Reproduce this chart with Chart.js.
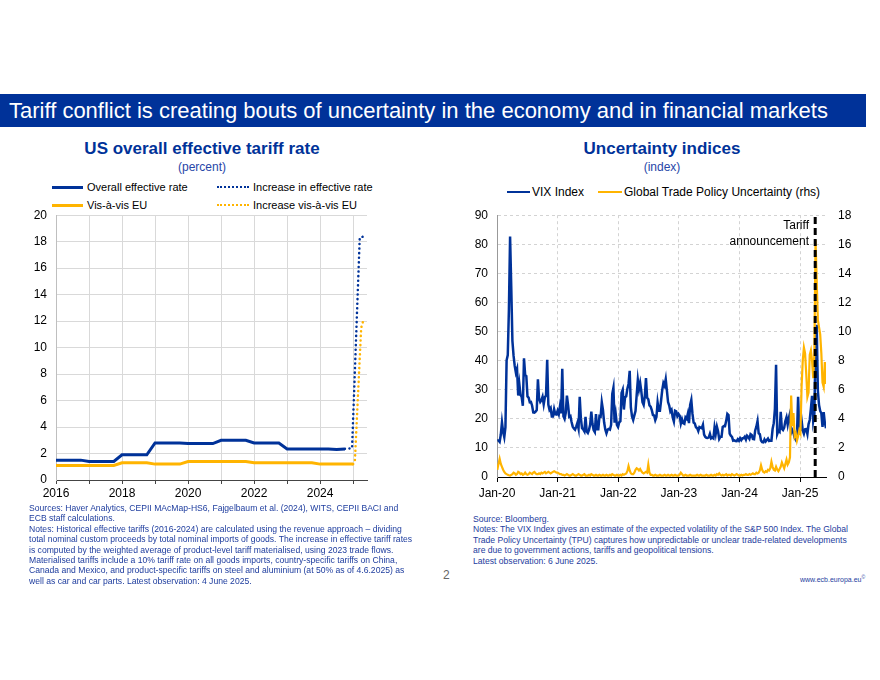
<!DOCTYPE html>
<html>
<head>
<meta charset="utf-8">
<script src="https://cdn.jsdelivr.net/npm/chart.js@4.4.1/dist/chart.umd.min.js"></script>
<style>
  body { margin: 0; background: #fff; font-family: "Liberation Sans", Arial, sans-serif; }
  #page { position: relative; width: 880px; height: 680px; overflow: hidden; }
  .abs { position: absolute; white-space: nowrap; }
  #banner { left: 0; top: 94px; width: 866px; height: 33px; background: #003299; color: #fff;
            font-size: 22px; line-height: 33px; padding-left: 9px; box-sizing: border-box; }
  .title { font-weight: bold; font-size: 17px; line-height: 20px; color: #003299; text-align: center; }
  .sub { font-size: 12px; line-height: 14px; color: #2846a8; text-align: center; }
  .leg { font-size: 11px; line-height: 14px; color: #000; }
  .leg2 { font-size: 12px; line-height: 14px; color: #000; }
  .sw { position: absolute; height: 0; }
  .notes { font-size: 8.6px; line-height: 10.4px; color: #1d3c9e; }
  canvas { position: absolute; }
</style>
</head>
<body>
<div id="page">
  <div id="banner" class="abs">Tariff conflict is creating bouts of uncertainty in the economy and in financial markets</div>

  <!-- left panel -->
  <div class="abs title" style="left:20px; top:139px; width:364px;">US overall effective tariff rate</div>
  <div class="abs sub" style="left:20px; top:160px; width:364px;">(percent)</div>
  <div class="sw" style="left:52px; top:186px; width:31px; border-top:3px solid #003299;"></div>
  <div class="abs leg" style="left:87px; top:180px;">Overall effective rate</div>
  <div class="sw" style="left:217px; top:186px; width:32px; border-top:2.5px dotted #003299;"></div>
  <div class="abs leg" style="left:253px; top:180px;">Increase in effective rate</div>
  <div class="sw" style="left:52px; top:204px; width:31px; border-top:3px solid #ffb400;"></div>
  <div class="abs leg" style="left:87px; top:198px;">Vis-à-vis EU</div>
  <div class="sw" style="left:217px; top:204px; width:32px; border-top:2.5px dotted #ffb400;"></div>
  <div class="abs leg" style="left:253px; top:198px;">Increase vis-à-vis EU</div>
  <canvas id="tariffChart" width="360" height="306" style="left:20px; top:199px;"></canvas>
  <div class="abs notes" style="left:29px; top:503px;">Sources: Haver Analytics, CEPII MAcMap-HS6, Fajgelbaum et al. (2024), WITS, CEPII BACI and<br>ECB staff calculations.<br>Notes: Historical effective tariffs (2016-2024) are calculated using the revenue approach – dividing<br>total nominal custom proceeds by total nominal imports of goods. The increase in effective tariff rates<br>is computed by the weighted average of product-level tariff materialised, using 2023 trade flows.<br>Materialised tariffs include a 10% tariff rate on all goods imports, country-specific tariffs on China,<br>Canada and Mexico, and product-specific tariffs on steel and aluminium (at 50% as of 4.6.2025) as<br>well as car and car parts. Latest observation: 4 June 2025.</div>

  <!-- right panel -->
  <div class="abs title" style="left:482px; top:139px; width:360px;">Uncertainty indices</div>
  <div class="abs sub" style="left:482px; top:160px; width:360px;">(index)</div>
  <div class="sw" style="left:507px; top:191px; width:23px; border-top:2px solid #003299;"></div>
  <div class="abs leg2" style="left:532px; top:185px;">VIX Index</div>
  <div class="sw" style="left:598px; top:191px; width:24px; border-top:2px solid #ffb400;"></div>
  <div class="abs leg2" style="left:624px; top:185px;">Global Trade Policy Uncertainty (rhs)</div>
  <canvas id="uncChart" width="420" height="309" style="left:450px; top:196px;"></canvas>
  <div class="abs leg2" style="left:690px; top:218px; width:119px; text-align:right;">Tariff<br><span style="line-height:19px;">announcement</span></div>
  <div class="abs notes" style="left:473px; top:514px;">Source: Bloomberg.<br>Notes: The VIX Index gives an estimate of the expected volatility of the S&amp;P 500 Index. The Global<br>Trade Policy Uncertainty (TPU) captures how unpredictable or unclear trade-related developments<br>are due to government actions, tariffs and geopolitical tensions.<br>Latest observation: 6 June 2025.</div>

  <div class="abs" style="left:443px; top:568px; font-size:12px; color:#666;">2</div>
  <div class="abs" style="left:800px; top:574px; font-size:7px; color:#1d3c9e;">www.ecb.europa.eu<sup style="font-size:5px;">©</sup></div>
</div>

<script>
// ---- left chart data: US effective tariff rate, one value per quarter from 2016 Q1 ----
const tariffStart = 2016;
const overallRate = [
  1.5, 1.5, 1.5, 1.5,   1.4, 1.4, 1.4, 1.4,   1.9, 1.9, 1.9, 1.9,
  2.8, 2.8, 2.8, 2.8,   2.75, 2.75, 2.75, 2.75, 3.0, 3.0, 3.0, 3.0,
  2.8, 2.8, 2.8, 2.8,   2.35, 2.35, 2.35, 2.35, 2.35, 2.35, 2.3, 2.35
];
const euRate = [
  1.1, 1.1, 1.1, 1.1,   1.1, 1.1, 1.1, 1.1,   1.3, 1.3, 1.3, 1.3,
  1.2, 1.2, 1.2, 1.2,   1.4, 1.4, 1.4, 1.4,   1.4, 1.4, 1.4, 1.4,
  1.3, 1.3, 1.3, 1.3,   1.3, 1.3, 1.3, 1.3,   1.2, 1.2, 1.2, 1.2, 1.2
];
const overallIncreaseDates = ['2024-10-01', '2024-12-20', '2025-03-15', '2025-04-30'];
const overallIncrease = [2.35, 2.4, 18.3, 18.4];
const euIncreaseDates = ['2025-01-01', '2025-01-20', '2025-03-31', '2025-04-30'];
const euIncrease = [1.2, 1.4, 11.5, 12.2];
const tariffYearLabels = ['2016', '2018', '2020', '2022', '2024'];

// ---- right chart data: weekly (Fridays) from 3 Jan 2020 to 6 Jun 2025 ----
const weeklyStart = '2020-01-03';
const vix2020 = [12.5, 12.6, 12.1, 14.6, 18.8, 15.5, 13.7, 17.1, 40.1, 41.9, 57.8, 82.7, 65.5,
  46.8, 41.7, 38.2, 35.9, 37.2, 28.0, 31.9, 28.2, 27.5, 24.5, 40.8, 35.1, 34.7, 27.7, 27.3, 25.7,
  25.8, 24.5, 22.2, 22.1, 22.5, 23.0, 33.6, 26.9, 25.8, 26.4, 27.6, 25.0, 27.4, 28.0, 40.3, 24.9,
  23.1, 23.7, 20.8, 20.8, 23.3, 21.6, 21.5];
const vix2021 = [22.75, 21.6, 24.3, 21.9, 37.2, 20.9, 20.0, 22.05, 28.0, 24.7, 20.7, 20.95, 18.9,
  17.3, 16.7, 16.25, 17.3, 18.6, 16.7, 27.6, 20.15, 16.8, 16.4, 15.7, 20.7, 15.6, 15.1, 16.2, 18.0,
  22.5, 18.2, 16.15, 15.45, 21.6, 16.4, 16.4, 20.95, 20.8, 25.7, 23.1, 18.8, 16.3, 15.0, 16.3, 16.5,
  16.3, 17.9, 28.6, 30.7, 18.7, 21.6, 17.95, 17.2];
const vix2022 = [18.8, 19.2, 28.85, 30.0, 23.2, 27.4, 27.75, 30.3, 32.0, 36.5, 23.9, 20.8, 19.6,
  21.2, 22.7, 28.2, 33.4, 30.2, 32.3, 29.4, 25.7, 24.8, 27.75, 34.0, 27.2, 26.7, 24.6, 24.2, 23.0,
  21.3, 21.15, 19.5, 20.6, 25.6, 22.8, 22.8, 26.3, 29.9, 32.3, 31.4, 33.6, 29.7, 25.75, 24.55, 22.5,
  23.1, 20.5, 19.1, 22.8, 22.6, 20.9, 21.67];
const vix2023 = [21.1, 18.35, 19.85, 18.5, 18.3, 20.5, 20.0, 21.7, 18.5, 24.8, 26.5, 21.7, 18.7,
  18.4, 17.1, 16.8, 15.8, 17.2, 17.0, 16.8, 17.95, 14.6, 13.8, 13.5, 13.4, 13.6, 14.8, 13.3, 13.6,
  13.3, 17.1, 14.8, 17.3, 15.7, 13.1, 13.8, 13.8, 17.2, 17.5, 17.45, 19.3, 21.7, 21.3, 14.9, 14.2,
  13.8, 12.5, 12.6, 12.35, 12.3, 13.0, 12.45];
const vix2024 = [13.35, 12.7, 13.3, 13.3, 13.85, 12.9, 14.2, 13.75, 13.1, 14.7, 14.4, 13.1, 13.0,
  16.0, 17.3, 19.2, 15.0, 14.7, 12.55, 12.0, 11.9, 12.9, 12.2, 12.7, 13.2, 12.4, 12.5, 12.5, 16.5,
  18.5, 23.4, 38.6, 14.8, 15.9, 15.55, 22.4, 16.6, 16.15, 16.95, 19.2, 20.5, 18.0, 20.3, 21.9, 15.2,
  16.1, 15.2, 13.5, 12.8, 13.8, 27.6, 15.95];
const vix2025 = [16.1, 19.5, 16.0, 14.85, 16.4, 16.5, 14.8, 18.2, 19.6, 23.4, 27.9, 19.3, 21.65,
  45.3, 52.3, 29.65, 24.8, 22.7, 21.9, 17.2, 22.3, 18.6, 16.8];

const tpu2020 = [0.5, 0.9, 1.25, 0.9, 0.7, 0.5, 0.35, 0.25, 0.2, 0.15, 0.12, 0.1, 0.15, 0.2, 0.3,
  0.25, 0.15, 0.2, 0.35, 0.3, 0.2, 0.25, 0.15, 0.2, 0.3, 0.2, 0.15, 0.2, 0.3, 0.25, 0.2, 0.3, 0.35,
  0.25, 0.2, 0.2, 0.25, 0.2, 0.3, 0.25, 0.3, 0.35, 0.25, 0.3, 0.35, 0.3, 0.25, 0.3, 0.35, 0.4, 0.35, 0.3];
const tpu2021 = [0.3, 0.25, 0.2, 0.2, 0.15, 0.15, 0.1, 0.15, 0.2, 0.15, 0.1, 0.1, 0.15, 0.2, 0.15,
  0.1, 0.1, 0.15, 0.2, 0.15, 0.1, 0.1, 0.15, 0.2, 0.1, 0.1, 0.1, 0.15, 0.1, 0.2, 0.15, 0.1, 0.1,
  0.15, 0.1, 0.1, 0.15, 0.1, 0.1, 0.15, 0.1, 0.1, 0.15, 0.1, 0.1, 0.15, 0.1, 0.2, 0.15, 0.1, 0.1, 0.15, 0.1];
const tpu2022 = [0.1, 0.15, 0.1, 0.2, 0.15, 0.2, 0.25, 0.4, 0.75, 0.45, 0.25, 0.2, 0.2, 0.3, 0.5,
  0.6, 0.55, 0.45, 0.55, 0.4, 0.3, 0.25, 0.3, 0.35, 0.3, 0.85, 0.3, 0.15, 0.15, 0.1, 0.1, 0.15, 0.1,
  0.1, 0.1, 0.15, 0.1, 0.1, 0.1, 0.15, 0.1, 0.1, 0.15, 0.1, 0.1, 0.15, 0.1, 0.1, 0.15, 0.1, 0.1, 0.1];
const tpu2023 = [0.15, 0.3, 0.2, 0.1, 0.1, 0.15, 0.1, 0.1, 0.1, 0.15, 0.1, 0.1, 0.1, 0.1, 0.1, 0.15,
  0.1, 0.1, 0.15, 0.1, 0.1, 0.1, 0.1, 0.15, 0.1, 0.1, 0.1, 0.15, 0.1, 0.1, 0.15, 0.1, 0.2, 0.15, 0.25,
  0.15, 0.1, 0.15, 0.1, 0.15, 0.2, 0.1, 0.15, 0.15, 0.1, 0.2, 0.15, 0.1, 0.15, 0.2, 0.15, 0.1];
const tpu2024 = [0.1, 0.15, 0.1, 0.15, 0.15, 0.2, 0.15, 0.15, 0.2, 0.15, 0.2, 0.25, 0.2, 0.2, 0.3,
  0.25, 0.3, 0.45, 0.8, 0.5, 0.35, 0.3, 0.4, 0.35, 0.5, 0.45, 0.6, 1.05, 0.7, 0.5, 0.45, 0.7, 0.5,
  0.4, 0.55, 0.7, 1.0, 0.8, 0.6, 0.9, 1.2, 0.85, 1.0, 1.35, 5.6, 3.5, 4.4, 2.8, 3.0, 2.5, 2.8, 3.2];
const tpu2025 = [3.0, 6.2, 8.0, 8.9, 8.5, 7.1, 5.5, 5.8, 8.4, 8.7, 8.0, 6.8, 8.5, 16.3, 13.5, 10.8,
  10.3, 9.8, 8.5, 6.5, 6.2, 7.9, 6.4];
const tariffAnnouncement = '2025-04-02';
const uncYearLabels = ['Jan-20', 'Jan-21', 'Jan-22', 'Jan-23', 'Jan-24', 'Jan-25'];

const BLUE = '#003299';
const YELLOW = '#ffb400';

function yearFrac(d) {
  const t = typeof d === 'number' ? d : Date.parse(d + 'T00:00:00Z');
  const y = new Date(t).getUTCFullYear();
  const a = Date.UTC(y, 0, 1), b = Date.UTC(y + 1, 0, 1);
  return y + (t - a) / (b - a);
}

Chart.defaults.font.family = '"Liberation Sans", Arial, sans-serif';
Chart.defaults.color = '#000';

// ---------- left chart ----------
const quarterly = vals => vals.map((v, i) => ({ x: tariffStart + i / 4, y: v }));
const dated = (dates, vals) => dates.map((d, i) => ({ x: yearFrac(d), y: vals[i] }));

new Chart(document.getElementById('tariffChart'), {
  type: 'line',
  data: {
    datasets: [
      { data: quarterly(overallRate), borderColor: BLUE, borderWidth: 3 },
      { data: dated(overallIncreaseDates, overallIncrease), borderColor: BLUE, borderWidth: 2.5,
        borderDash: [0.1, 4.5], borderCapStyle: 'round' },
      { data: quarterly(euRate), borderColor: YELLOW, borderWidth: 3 },
      { data: dated(euIncreaseDates, euIncrease), borderColor: YELLOW, borderWidth: 2.5,
        borderDash: [0.1, 4.5], borderCapStyle: 'round' }
    ]
  },
  options: {
    responsive: false,
    animation: false,
    elements: { point: { radius: 0 }, line: { tension: 0 } },
    layout: { padding: { top: 0, right: 13, left: 0, bottom: 0 } },
    plugins: { legend: { display: false }, tooltip: { enabled: false } },
    scales: {
      x: {
        type: 'linear', min: 2016, max: 2025.42,
        ticks: { stepSize: 1, includeBounds: false, autoSkip: false, maxRotation: 0, padding: 2,
                 font: { size: 12 },
                 callback: v => tariffYearLabels.includes(String(v)) ? String(v) : '' },
        grid: { color: '#d9d9d9', tickColor: '#444', tickLength: 4 },
        border: { color: '#444' },
        afterFit: s => { s.height = 25; }
      },
      y: {
        min: 0, max: 20,
        ticks: { stepSize: 2, padding: 9, font: { size: 12 } },
        grid: { color: '#d9d9d9', drawTicks: false },
        border: { color: '#bfbfbf' },
        afterFit: s => { s.width = 36; }
      }
    }
  }
});

// ---------- right chart ----------
const weekly = (...years) => {
  const t0 = Date.parse(weeklyStart + 'T00:00:00Z');
  return [].concat(...years).map((v, i) => ({ x: yearFrac(t0 + i * 7 * 864e5), y: v }));
};
const vixData = weekly(vix2020, vix2021, vix2022, vix2023, vix2024, vix2025);
const tpuData = weekly(tpu2020, tpu2021, tpu2022, tpu2023, tpu2024, tpu2025);
const annX = yearFrac(tariffAnnouncement);

new Chart(document.getElementById('uncChart'), {
  type: 'line',
  data: {
    datasets: [
      { data: vixData, borderColor: BLUE, borderWidth: 2.5, yAxisID: 'y', order: 2 },
      { data: tpuData, borderColor: YELLOW, borderWidth: 2.2, yAxisID: 'y1', order: 1 },
      { data: [{ x: annX, y: 0 }, { x: annX, y: 90 }], borderColor: '#000', borderWidth: 3,
        borderDash: [7, 4], yAxisID: 'y', order: 0 }
    ]
  },
  options: {
    responsive: false,
    animation: false,
    elements: { point: { radius: 0 }, line: { tension: 0 } },
    layout: { padding: { top: 0, right: 0, left: 0, bottom: 0 } },
    plugins: { legend: { display: false }, tooltip: { enabled: false } },
    scales: {
      x: {
        type: 'linear', min: 2020, max: vixData[vixData.length - 1].x,
        ticks: { stepSize: 1, includeBounds: false, autoSkip: false, maxRotation: 0, padding: 4,
                 font: { size: 12 },
                 callback: v => uncYearLabels[v - 2020] || '' },
        grid: { color: '#d3d3d3', tickColor: '#000', tickLength: 5 },
        border: { color: '#000', dash: [3, 3] },
        afterFit: s => { s.height = 28; }
      },
      y: {
        position: 'left', min: 0, max: 90,
        ticks: { stepSize: 10, padding: 9, font: { size: 12 } },
        grid: { color: '#d3d3d3', drawTicks: false },
        border: { color: '#999', dash: [3, 3] },
        afterFit: s => { s.width = 47; }
      },
      y1: {
        position: 'right', min: 0, max: 18,
        ticks: { stepSize: 2, padding: 12, font: { size: 12 } },
        grid: { drawOnChartArea: false, drawTicks: false },
        border: { display: false },
        afterFit: s => { s.width = 44; }
      }
    }
  }
});
</script>
</body>
</html>
